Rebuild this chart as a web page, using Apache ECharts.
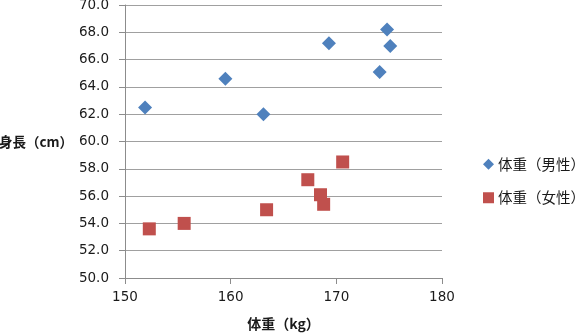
<!DOCTYPE html>
<html>
<head>
<meta charset="utf-8">
<script src="https://cdn.jsdelivr.net/npm/echarts@6/dist/echarts.min.js"></script>
<style>html,body{margin:0;padding:0;background:#fff}#c{width:580px;height:335px}</style>
</head>
<body>
<div id="c"></div>
<script>
var maleWeight = [151.9, 159.5, 163.1, 169.3, 174.8, 175.1, 174.1];
var maleHeight = [62.5, 64.6, 62.0, 67.2, 68.2, 67.0, 65.1];
var femaleWeight = [152.3, 155.6, 163.4, 167.3, 168.5, 168.8, 170.6];
var femaleHeight = [53.6, 54.0, 55.0, 57.2, 56.1, 55.4, 58.5];
var seriesNames = ['体重（男性）', '体重（女性）'];
var xTitle = '体重（kg）';
var yTitle = '身長（cm）';

function pairs(xs, ys) { return xs.map(function (x, i) { return [x, ys[i]]; }); }

var numFont = 'DejaVu Sans';
var jpFont = 'Noto Sans CJK JP';
var chart = echarts.init(document.getElementById('c'), null, { renderer: 'canvas' });
chart.setOption({
  animation: false,
  backgroundColor: '#fff',
  grid: { left: 125, right: 138, top: 5, bottom: 57, containLabel: false, outerBoundsMode: 'none' },
  legend: {
    orient: 'vertical', left: 478, top: 152, itemWidth: 11, itemHeight: 11, itemGap: 19,
    textStyle: { fontFamily: jpFont, fontSize: 14.5, color: '#1a1a1a', padding: [0, 0, 0, -1] },
    data: [{ name: seriesNames[0], icon: 'diamond' }, { name: seriesNames[1], icon: 'rect' }]
  },
  xAxis: {
    type: 'value', min: 150, max: 180, interval: 10,
    name: xTitle, nameLocation: 'middle', nameGap: 39,
    nameTextStyle: { fontFamily: jpFont, fontSize: 14, fontWeight: 'bold', color: '#1a1a1a' },
    axisLine: { show: true, onZero: false, lineStyle: { color: '#8c8c8c' } },
    axisTick: { show: true, length: 6, lineStyle: { color: '#8c8c8c' } },
    axisLabel: { fontFamily: numFont, fontSize: 13.5, color: '#1a1a1a', margin: 12 },
    splitLine: { show: false }
  },
  yAxis: {
    type: 'value', min: 50, max: 70, interval: 2,
    name: yTitle, nameLocation: 'middle', nameRotate: 0, nameGap: 50,
    nameTextStyle: { fontFamily: jpFont, fontSize: 13.5, fontWeight: 'bold', color: '#1a1a1a' },
    axisLine: { show: true, lineStyle: { color: '#8c8c8c' } },
    axisTick: { show: true, length: 6, lineStyle: { color: '#8c8c8c' } },
    axisLabel: { fontFamily: numFont, fontSize: 13.5, color: '#1a1a1a', margin: 16,
      formatter: function (v) { return v.toFixed(1); } },
    splitLine: { show: true, lineStyle: { color: '#a0a0a0' } }
  },
  series: [
    { name: seriesNames[0], type: 'scatter', symbol: 'diamond', symbolSize: 14,
      itemStyle: { color: '#4F81BD', opacity: 1 }, data: pairs(maleWeight, maleHeight) },
    { name: seriesNames[1], type: 'scatter', symbol: 'rect', symbolSize: 13,
      itemStyle: { color: '#C0504D', opacity: 1 }, data: pairs(femaleWeight, femaleHeight) }
  ]
});
</script>
</body>
</html>
